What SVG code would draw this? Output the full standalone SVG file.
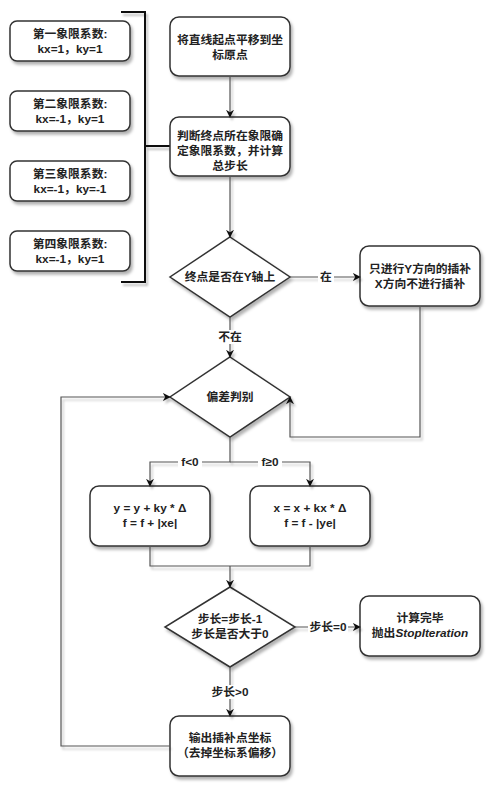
<svg xmlns="http://www.w3.org/2000/svg" width="504" height="801" viewBox="0 0 504 801">
<defs>
<filter id="sh" x="-20%" y="-20%" width="150%" height="150%">
<feDropShadow dx="2" dy="3" stdDeviation="1.5" flood-color="#000" flood-opacity="0.3"/>
</filter>
<filter id="she" filterUnits="userSpaceOnUse" x="0" y="0" width="504" height="801">
<feDropShadow dx="2" dy="3" stdDeviation="1.2" flood-color="#000" flood-opacity="0.25"/>
</filter>
<marker id="ar" viewBox="0 0 10 10" refX="9" refY="5" markerWidth="8" markerHeight="8" markerUnits="userSpaceOnUse" orient="auto">
<path d="M0,0 L10,5 L0,10 L3,5 Z" fill="#111"/>
</marker>
</defs>
<style>
.n{fill:#fff;stroke:#333;stroke-width:1.5;filter:url(#sh)}
.t{font-family:"Liberation Sans","Noto Sans CJK SC",sans-serif;font-size:11.8px;font-weight:bold;fill:#222;text-anchor:middle}
.e{fill:none;stroke:#555;stroke-width:1.2}
.lb{fill:#fff}
</style>
<rect width="504" height="801" fill="#fff"/>
<g id="q1"><rect class="n" x="10" y="21" width="120" height="40" rx="7"/><text class="t" x="70" y="38">第一象限系数:</text><text class="t" x="70" y="53">kx=1，ky=1</text></g>
<g id="q2"><rect class="n" x="10" y="91" width="120" height="40" rx="7"/><text class="t" x="70" y="108">第二象限系数:</text><text class="t" x="70" y="123">kx=-1，ky=1</text></g>
<g id="q3"><rect class="n" x="10" y="161" width="120" height="40" rx="7"/><text class="t" x="70" y="178">第三象限系数:</text><text class="t" x="70" y="193">kx=-1，ky=-1</text></g>
<g id="q4"><rect class="n" x="10" y="231" width="120" height="40" rx="7"/><text class="t" x="70" y="248">第四象限系数:</text><text class="t" x="70" y="263">kx=-1，ky=1</text></g>
<g id="bracket"><path d="M121,12 H145 V282 H121 M145,146 H170" fill="none" stroke="#111" stroke-width="2" filter="url(#she)"/></g>
<g id="n1"><rect class="n" x="170" y="17" width="120" height="59" rx="9"/><text class="t" x="230" y="44">将直线起点平移到坐</text><text class="t" x="230" y="59">标原点</text></g>
<g id="n2"><rect class="n" x="170" y="117" width="120" height="59" rx="9"/><text class="t" x="230" y="140">判断终点所在象限确</text><text class="t" x="230" y="155">定象限系数，并计算</text><text class="t" x="230" y="170">总步长</text></g>
<g id="d1"><path class="n" d="M230,237 L290,277 L230,317 L170,277 Z"/><text class="t" x="230" y="281">终点是否在Y轴上</text></g>
<g id="n3"><rect class="n" x="360" y="246" width="120" height="60" rx="9"/><text class="t" x="420" y="273">只进行Y方向的插补</text><text class="t" x="420" y="288">X方向不进行插补</text></g>
<g id="d2"><path class="n" d="M230,357 L290,397 L230,437 L170,397 Z"/><text class="t" x="230" y="401">偏差判别</text></g>
<g id="n4"><rect class="n" x="90" y="486" width="120" height="60" rx="9"/><text class="t" x="150" y="512">y = y + ky * Δ</text><text class="t" x="150" y="527">f = f + |xe|</text></g>
<g id="n5"><rect class="n" x="250" y="486" width="120" height="60" rx="9"/><text class="t" x="310" y="512">x = x + kx * Δ</text><text class="t" x="310" y="527">f = f - |ye|</text></g>
<g id="d3"><path class="n" d="M230,587 L295,627 L230,667 L165,627 Z"/><text class="t" x="230" y="623">步长=步长-1</text><text class="t" x="230" y="638">步长是否大于0</text></g>
<g id="n6"><rect class="n" x="360" y="596" width="120" height="60" rx="9"/><text class="t" x="420" y="622">计算完毕</text><text class="t" x="420" y="637">抛出<tspan font-style="italic">StopIteration</tspan></text></g>
<g id="n7"><rect class="n" x="170" y="716" width="120" height="60" rx="9"/><text class="t" x="230" y="742">输出插补点坐标</text><text class="t" x="230" y="757">（去掉坐标系偏移）</text></g>
<g id="edges">
<g filter="url(#she)">
<path class="e" d="M230,76 V117" marker-end="url(#ar)"/>
<path class="e" d="M230,176 V237" marker-end="url(#ar)"/>
<path class="e" d="M290,277 H360" marker-end="url(#ar)"/>
<path class="e" d="M230,317 V357" marker-end="url(#ar)"/>
<path class="e" d="M420,306 V437 H290 V397" marker-end="url(#ar)"/>
<path class="e" d="M230,437 V462 H150 V486" marker-end="url(#ar)"/>
<path class="e" d="M230,462 H310 V486" marker-end="url(#ar)"/>
<path class="e" d="M150,546 V566 H310 V546 M230,566 V587" marker-end="url(#ar)"/>
<path class="e" d="M295,627 H360" marker-end="url(#ar)"/>
<path class="e" d="M230,667 V716" marker-end="url(#ar)"/>
<path class="e" d="M170,746 H61 V397 H170" marker-end="url(#ar)"/>
</g>
<rect class="lb" x="318" y="270" width="16" height="14"/><text class="t" x="326" y="281">在</text>
<rect class="lb" x="217" y="330" width="26" height="14"/><text class="t" x="230" y="341">不在</text>
<rect class="lb" x="178" y="455" width="24" height="14"/><text class="t" x="190" y="466">f&lt;0</text>
<rect class="lb" x="258" y="455" width="24" height="14"/><text class="t" x="270" y="466">f≥0</text>
<rect class="lb" x="308" y="620" width="40" height="14"/><text class="t" x="328" y="631">步长=0</text>
<rect class="lb" x="210" y="685" width="40" height="14"/><text class="t" x="230" y="696">步长&gt;0</text>
</g>
</svg>
